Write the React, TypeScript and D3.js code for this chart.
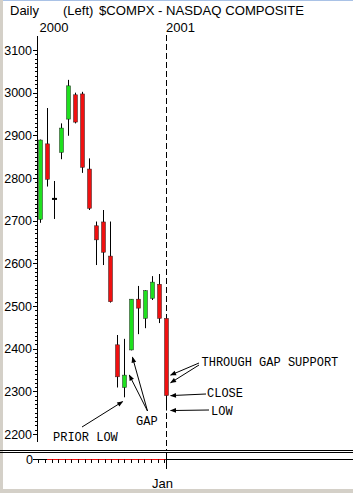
import * as d3 from 'd3';

// daily OHLC, $COMPX, Dec 2000 - Jan 2 2001
const opens = [2703, 2880, 2752, 2860, 2938, 2995, 2997, 2821, 2688, 2697, 2617, 2409, 2309, 2397, 2516, 2471, 2518, 2551, 2471];
const highs = [2890, 2964, 2793, 2928, 3030, 3000, 3002, 2846, 2698, 2725, 2698, 2432, 2423, 2516, 2547, 2537, 2570, 2575, 2471];
const lows = [2695, 2780, 2704, 2844, 2899, 2928, 2812, 2725, 2596, 2596, 2508, 2309, 2286, 2396, 2434, 2448, 2514, 2460, 2255];
const closes = [2889, 2797, 2750, 2917, 3016, 2931, 2825, 2729, 2655, 2626, 2510, 2334, 2338, 2516, 2495, 2536, 2556, 2471, 2290];

const priceTicks = [2200, 2300, 2400, 2500, 2600, 2700, 2800, 2900, 3000, 3100];
const headerLabels = ['Daily', '(Left)', '$COMPX - NASDAQ COMPOSITE'];
const yearLabels = ['2000', '2001'];
const monthLabel = 'Jan';

const W = 353;
const H = 493;
const UP = '#1fe01f';
const DOWN = '#f01010';
const GREY = '#d4d0c8';

export default function App() {
  const n = opens.length;
  const x = d3.scaleLinear().domain([0, n - 1]).range([40, 165.6]);
  const y = d3.scaleLinear().domain([2200, 3100]).range([434, 50]);

  const minor = d3.range(2200, 3101, 10).filter(v => v % 100 !== 0);
  const last = n - 1;
  const xl = x(last);

  const mono = { fontFamily: '"Liberation Mono", "DejaVu Sans Mono", monospace', fontSize: 12 };
  const sans = { fontFamily: '"Liberation Sans", Arial, sans-serif' };

  // arrow tails sit by the notes, heads point at prices on the candles
  const arrows: [number, number, number, number][] = [
    [199, 363, xl + 5, y(2338)],
    [199, 365, xl + 5, y(2320)],
    [206, 394, xl + 5, y(closes[last])],
    [209, 410, xl + 5, y(lows[last])],
    [147.5, 411, x(12.8), y(2338)],
    [147.5, 411, x(13.25), y(2380)],
    [82, 427, x(11.85), y(2276)],
  ];

  return (
    <svg width={W} height={H} style={{ position: 'fixed', left: 0, top: 0, background: '#fff' }}>
      <defs>
        <marker id="ah" viewBox="0 0 10 10" refX="9" refY="5" markerWidth="7" markerHeight="6" orient="auto" markerUnits="userSpaceOnUse">
          <path d="M0,1 L10,5 L0,9 z" fill="#000" />
        </marker>
      </defs>
      <rect x={0} y={0} width={W} height={1} fill="#a9c2e6" />
      <rect x={0} y={0} width={3} height={H} fill={GREY} />
      <rect x={0} y={489} width={W} height={H - 489} fill={GREY} />

      {/* header */}
      <g style={sans} fontSize={13} fill="#000">
        <text x={10} y={15}>{headerLabels[0]}</text>
        <text x={63} y={15}>{headerLabels[1]}</text>
        <text x={99} y={15} textLength={205} lengthAdjust="spacingAndGlyphs">{headerLabels[2]}</text>
        <text x={39.5} y={31.5}>{yearLabels[0]}</text>
        <text x={xl + 0.5} y={31.5}>{yearLabels[1]}</text>
      </g>

      {/* y axis */}
      <line x1={37.5} x2={37.5} y1={36} y2={442} stroke="#000" />
      {minor.map(v => (
        <line key={'m' + v} x1={35} x2={37.5} y1={Math.round(y(v)) + 0.5} y2={Math.round(y(v)) + 0.5} stroke="#000" />
      ))}
      {priceTicks.map(v => (
        <g key={v}>
          <line x1={33} x2={37.5} y1={Math.round(y(v)) + 0.5} y2={Math.round(y(v)) + 0.5} stroke="#000" />
          <text x={32} y={y(v) + 4.5} textAnchor="end" style={sans} fontSize={12.5}>{v}</text>
        </g>
      ))}

      {/* year divider */}
      <line x1={Math.round(xl) + 0.5} x2={Math.round(xl) + 0.5} y1={35} y2={451} stroke="#000" strokeDasharray="6,3" />

      {/* candles */}
      {opens.map((o, i) => {
        const c = closes[i];
        const cx = Math.round(x(i)) + 0.5;
        const top = y(Math.max(o, c));
        const bot = y(Math.min(o, c));
        const flat = bot - top < 2;
        return (
          <g key={i}>
            <line x1={cx} x2={cx} y1={y(highs[i])} y2={y(lows[i])} stroke="#000" />
            {flat ? (
              <rect x={cx - 2.5} y={(top + bot) / 2 - 1} width={5} height={2} fill="#000" />
            ) : (
              <rect x={cx - 2} y={top} width={4} height={bot - top} fill={c > o ? UP : DOWN} stroke="#222" strokeWidth={0.5} />
            )}
          </g>
        );
      })}

      {/* annotations */}
      {arrows.map(([x1, y1, x2, y2], i) => (
        <line key={'a' + i} x1={x1} y1={y1} x2={x2} y2={y2} stroke="#000" strokeWidth={1} markerEnd="url(#ah)" />
      ))}
      <g style={mono} fill="#000">
        <text x={201.5} y={366}>THROUGH GAP SUPPORT</text>
        <text x={207} y={397}>CLOSE</text>
        <text x={211} y={415}>LOW</text>
        <text x={136} y={425}>GAP</text>
        <text x={53} y={440.5}>PRIOR LOW</text>
      </g>

      {/* panel separator */}
      <line x1={0} x2={W} y1={450.5} y2={450.5} stroke="#000" />
      <line x1={0} x2={W} y1={452.5} y2={452.5} stroke="#000" />

      {/* lower panel */}
      <text x={33} y={463.5} textAnchor="end" style={sans} fontSize={12.5}>0</text>
      <line x1={33} x2={W} y1={459.5} y2={459.5} stroke="#000" />
      <line x1={x(1)} x2={xl} y1={459.5} y2={459.5} stroke={DOWN} />
      {d3.range(-0.25, last, 0.95).map((t, i) => (
        <line key={'t' + i} x1={Math.round(x(t)) + 0.5} x2={Math.round(x(t)) + 0.5} y1={459.5} y2={463} stroke="#000" />
      ))}
      <line x1={Math.round(xl) + 0.5} x2={Math.round(xl) + 0.5} y1={453} y2={469} stroke="#000" />
      <text x={xl - 3} y={487.5} textAnchor="middle" style={sans} fontSize={13}>{monthLabel}</text>
    </svg>
  );
}
